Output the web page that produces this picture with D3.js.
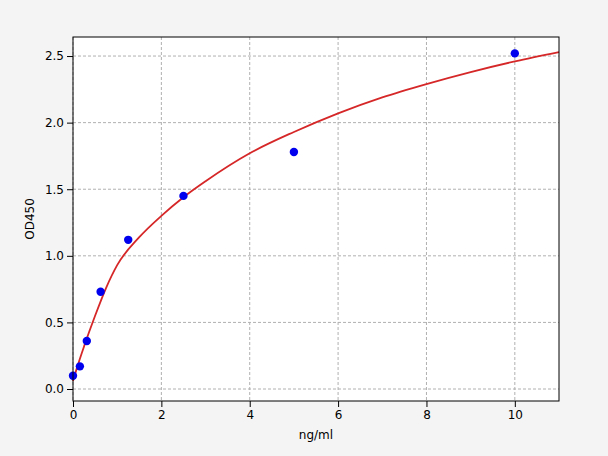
<!DOCTYPE html>
<html><head><meta charset="utf-8">
<script src="https://cdn.jsdelivr.net/npm/d3@7"></script>
<style>body{margin:0;background:#f4f4f4;font-family:"DejaVu Sans",sans-serif}</style>
</head><body>
<script>
var pointX = [0, 0.156, 0.3125, 0.625, 1.25, 2.5, 5, 10];
var pointY = [0.10, 0.17, 0.36, 0.73, 1.12, 1.45, 1.78, 2.52];
var curveX = [0, 0.1, 0.25, 0.5, 0.75, 1, 1.5, 2, 2.5, 3, 4, 5, 6, 7, 8, 9, 10, 11];
var curveY = [0.06, 0.17, 0.32, 0.55, 0.76, 0.93, 1.14, 1.30, 1.44, 1.56, 1.77, 1.93, 2.07, 2.19, 2.29, 2.38, 2.46, 2.53];
var xTicks = [0, 2, 4, 6, 8, 10];
var yTicks = [0, 0.5, 1, 1.5, 2, 2.5];

var W = 608, H = 456, L = 73, R = 559, T = 37, B = 401;
var svg = d3.select('body').append('svg').attr('width', W).attr('height', H);
var x = d3.scaleLinear().domain([0, 11]).range([L, R]);
var y = d3.scaleLinear().domain([-0.09, 2.643]).range([B, T]);

svg.append('rect').attr('x', L).attr('y', T).attr('width', R - L).attr('height', B - T).attr('fill', '#fff');

var g = svg.append('g');
g.selectAll('.vx').data(xTicks).enter().append('line')
    .attr('x1', x).attr('x2', x).attr('y1', T).attr('y2', B)
    .attr('stroke', '#b0b0b0').attr('stroke-dasharray', '3,2');
g.selectAll('.hy').data(yTicks).enter().append('line')
    .attr('y1', y).attr('y2', y).attr('x1', L).attr('x2', R)
    .attr('stroke', '#b0b0b0').attr('stroke-dasharray', '3,2');

var line = d3.line().x(function(d) { return x(d[0]); }).y(function(d) { return y(d[1]); })
    .curve(d3.curveMonotoneX);
svg.append('path').datum(d3.zip(curveX, curveY)).attr('d', line)
    .attr('fill', 'none').attr('stroke', '#d62728').attr('stroke-width', 1.8);

svg.selectAll('.pt').data(d3.zip(pointX, pointY)).enter().append('circle')
    .attr('cx', function(d) { return x(d[0]); }).attr('cy', function(d) { return y(d[1]); })
    .attr('r', 4.2).attr('fill', '#0000ee');

svg.append('rect').attr('x', L).attr('y', T).attr('width', R - L).attr('height', B - T)
    .attr('fill', 'none').attr('stroke', '#000');

var xa = svg.append('g').attr('transform', 'translate(0,' + B + ')')
    .call(d3.axisBottom(x).tickValues(xTicks).tickFormat(d3.format('d')).tickSizeOuter(0));
var ya = svg.append('g').attr('transform', 'translate(' + L + ',0)')
    .call(d3.axisLeft(y).tickValues(yTicks).tickFormat(d3.format('.1f')).tickSizeOuter(0));
[xa, ya].forEach(function(a) {
  a.select('.domain').remove();
  a.selectAll('text').attr('font-size', 12).attr('fill', '#000').attr('font-family', 'DejaVu Sans');
});

svg.append('text').attr('x', (L + R) / 2).attr('y', 439).attr('text-anchor', 'middle')
    .attr('font-size', 12).text('ng/ml');
svg.append('text').attr('transform', 'translate(34,' + (T + B) / 2 + ') rotate(-90)')
    .attr('text-anchor', 'middle').attr('font-size', 12).text('OD450');
</script>
</body></html>
